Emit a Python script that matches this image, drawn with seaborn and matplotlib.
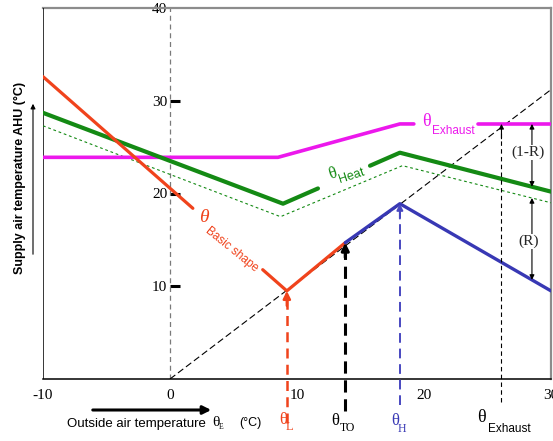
import numpy as np
import matplotlib
matplotlib.use("Agg")
import matplotlib.pyplot as plt
import seaborn as sns

# --- supply-air temperature curves (°C) vs outside air temperature (°C) ---
basic_x = [-10, 9.2, 13.8]
basic_y = [32.6, 9.5, 14.7]
cool_x = [13.8, 18.1, 30]
cool_y = [14.7, 18.9, 9.5]
heat_x = [-10, 8.9, 18.1, 30]
heat_y = [28.7, 18.9, 24.4, 20.2]
heat_min_x = [-10, 8.7, 18.3, 30]
heat_min_y = [27.3, 17.5, 23.0, 19.0]
exhaust_x = [-10, 8.5, 18.1, 30]
exhaust_y = [23.9, 23.9, 27.5, 27.5]
diag_x = [0, 30]
diag_y = [0, 31.2]

theta_L = 9.2
theta_TO = 13.8
theta_H = 18.1
theta_exhaust = 26.1
r_pos = 28.5

xticks = [-10, 0, 10, 20, 30]
xtick_labels = ["-10", "0", "10", "20", "30"]
yticks = [10, 20, 30, 40]
ytick_labels = ["10", "20", "30", "40"]

RED = "#F0431C"
GREEN = "#148A14"
MAGENTA = "#EC18EC"
BLUE = "#3838B4"
SERIF = "Liberation Serif"

sns.set_theme(style="white")
plt.rcParams["font.family"] = ["Liberation Sans", "DejaVu Sans"]

W, H = 553, 441
fig = plt.figure(figsize=(W / 100, H / 100), dpi=100)
ax = fig.add_axes([43 / W, 1 - 379 / H, (551 - 43) / W, (379 - 8) / H])
ax.set_xlim(-10, 30)
ax.set_ylim(0, 40)


def polyline(xs, ys, gap=None, **kw):
    xs = np.asarray(xs, float)
    ys = np.asarray(ys, float)
    pieces = [(xs[0], xs[-1])] if gap is None else [(xs[0], gap[0]), (gap[1], xs[-1])]
    for a, b in pieces:
        px = np.concatenate([[a], xs[(xs > a) & (xs < b)], [b]])
        py = np.interp(px, xs, ys)
        sns.lineplot(x=px, y=py, sort=False, estimator=None, ax=ax, **kw)


def at(xs, ys, x):
    return float(np.interp(x, xs, ys))


# reference lines
ax.axvline(0, color="#7a7a7a", lw=0.9, ls=(0, (4, 3)), zorder=1)
ax.axvline(-10, color="black", lw=1.1, zorder=3)
polyline(diag_x, diag_y, color="black", lw=0.8, linestyle=(0, (6, 3)), zorder=2)

# curves
polyline(heat_min_x, heat_min_y, color=GREEN, lw=0.8, linestyle=(0, (2.5, 2.5)), zorder=3)
polyline(exhaust_x, exhaust_y, gap=(19.2, 24.25), color=MAGENTA, lw=2.6, zorder=4)
polyline(heat_x, heat_y, gap=(11.65, 15.75), color=GREEN, lw=3.0, zorder=4)
polyline(basic_x, basic_y, gap=(1.8, 7.3), color=RED, lw=2.3, zorder=5)
polyline(cool_x, cool_y, color=BLUE, lw=2.4, zorder=5)


# vertical marker arrows from below the axis up to the curves
def up_arrow(x, y_top, y_bottom, color, lw, dash, head=9):
    ax.plot([x, x], [y_bottom, y_top - 0.8], color=color, lw=lw,
            ls=(0, dash), clip_on=False, zorder=6)
    ax.annotate("", xy=(x, y_top), xytext=(x, y_top - 1.6),
                arrowprops=dict(arrowstyle="-|>", color=color, lw=lw,
                                mutation_scale=head, shrinkA=0, shrinkB=0),
                annotation_clip=False, zorder=7)


up_arrow(theta_L, basic_y[1], -4.7, RED, 1.8, (4, 2.5), head=11)
up_arrow(theta_TO, basic_y[2], -3.4, "black", 2.2, (4, 2.2), head=11)
up_arrow(theta_H, at(cool_x, cool_y, theta_H), -2.8, "#4848C0", 1.4, (5, 3), head=9)
up_arrow(theta_exhaust, at(exhaust_x, exhaust_y, theta_exhaust), -2.5,
         "black", 0.8, (4, 3), head=7)

# (1-R) and (R) double arrows
y_exh = at(exhaust_x, exhaust_y, r_pos)
y_heat = at(heat_x, heat_y, r_pos)
y_min = at(heat_min_x, heat_min_y, r_pos)
y_cool = at(cool_x, cool_y, r_pos)
for y0, y1 in [(y_exh, y_heat), (y_min, y_cool)]:
    ax.annotate("", xy=(r_pos, y0), xytext=(r_pos, y1),
                arrowprops=dict(arrowstyle="<|-|>", color="black", lw=0.8,
                                mutation_scale=7, shrinkA=0, shrinkB=0), zorder=6)
ax.text(r_pos - 0.3, (y_exh + y_heat) / 2 + 0.3, "(1-R)", family=SERIF, fontsize=11,
        ha="center", va="center", zorder=8,
        bbox=dict(facecolor="white", edgecolor="none", pad=0.5))
ax.text(r_pos - 0.3, (y_min + y_cool) / 2 - 0.3, "(R)", family=SERIF, fontsize=11,
        ha="center", va="center", zorder=8,
        bbox=dict(facecolor="white", edgecolor="none", pad=0.5))

# axes styling
for side in ["top", "right"]:
    ax.spines[side].set_color("#8c8c8c")
    ax.spines[side].set_linewidth(1.6)
ax.spines["bottom"].set_color("black")
ax.spines["bottom"].set_linewidth(1.1)
ax.spines["left"].set_position(("data", 0))
ax.spines["left"].set_visible(False)

ax.set_xticks(xticks)
ax.set_xticklabels(xtick_labels, family=SERIF, fontsize=11)
ax.tick_params(axis="x", direction="inout", length=10, width=1.1,
               color="black", pad=2, labelcolor="black")
ax.set_yticks(yticks)
ax.set_yticklabels(ytick_labels, family=SERIF, fontsize=11)
ax.tick_params(axis="y", direction="in", length=7, width=2.2,
               color="black", pad=2, labelcolor="black", left=True)
ax.yaxis.get_major_ticks()[-1].tick1line.set_visible(False)
ax.set_xlabel("")
ax.set_ylabel("")


def ftext(px, py, s, **kw):
    kw.setdefault("ha", "center")
    kw.setdefault("va", "center")
    fig.text(px / W, 1 - py / H, s, **kw)


# curve labels
ftext(204, 218, "θ", color=RED, fontsize=14, family=SERIF, style="italic")
ftext(232, 249, "Basic shape", color=RED, fontsize=8.5, rotation=-39,
      rotation_mode="anchor")
ftext(333, 174, "θ", color=GREEN, fontsize=12, family=SERIF, rotation=18,
      rotation_mode="anchor")
ftext(352, 176, "Heat", color=GREEN, fontsize=9, rotation=18, rotation_mode="anchor")
ftext(426, 122, "θ", color=MAGENTA, fontsize=13, family=SERIF)
ftext(453, 131, "Exhaust", color=MAGENTA, fontsize=8.5)

# labels below the axis
ftext(283, 420, "θ", color=RED, fontsize=12, family=SERIF)
ftext(289, 427, "L", color=RED, fontsize=9, family=SERIF)
ftext(335, 421, "θ", color="black", fontsize=12, family=SERIF)
ftext(348, 428, "TO", color="black", fontsize=8.5, family=SERIF)
ftext(395, 421, "θ", color=BLUE, fontsize=12, family=SERIF)
ftext(402, 429, "H", color=BLUE, fontsize=8.5, family=SERIF)
ftext(481, 418, "θ", color="black", fontsize=13, family=SERIF)
ftext(509, 429, "Exhaust", color="black", fontsize=8.5)

# axis titles
ftext(136, 424, "Outside air temperature", fontsize=9.5, color="black")
ftext(216, 422, "θ", fontsize=11, family=SERIF, color="black")
ftext(221, 427, "E", fontsize=5.5, family=SERIF, color="black")
ftext(250, 423, "(°C)", fontsize=9, color="black")
ftext(20, 178, "Supply air temperature AHU (°C)", fontsize=9, fontweight="bold",
      rotation=90, color="black")

fig.add_artist(matplotlib.patches.FancyArrowPatch(
    (90 / W, 1 - 410 / H), (214 / W, 1 - 410 / H), transform=fig.transFigure,
    arrowstyle="-|>", mutation_scale=12, lw=2.2, color="black"))
fig.add_artist(matplotlib.patches.FancyArrowPatch(
    (33 / W, 1 - 257 / H), (33 / W, 1 - 101 / H), transform=fig.transFigure,
    arrowstyle="-|>", mutation_scale=7, lw=0.8, color="black"))

fig.savefig("out.png", dpi=100)
